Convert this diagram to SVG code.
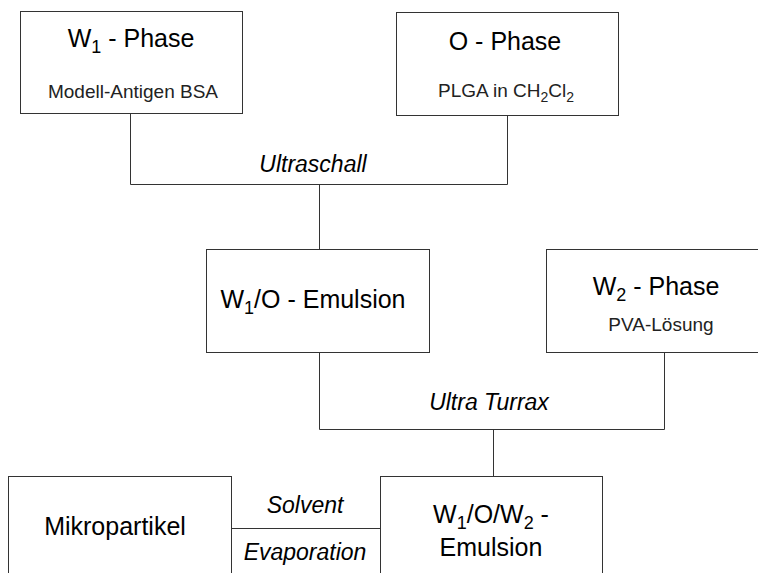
<svg xmlns="http://www.w3.org/2000/svg" width="758" height="573" viewBox="0 0 758 573">
<style>
.box{fill:#fff;stroke:#333;stroke-width:1}
.con{fill:none;stroke:#333;stroke-width:1}
text{font-family:"Liberation Sans",Arial,sans-serif;fill:#000;text-anchor:middle}
.t{font-size:25px}
.s{font-size:19px;fill:#222}
.l{font-size:23px;font-style:italic}
</style>
<rect width="758" height="573" fill="#fff"/>
<g id="connectors">
<path class="con" d="M130.5 113.5 V184.5 H507.5 V115.5"/>
<path class="con" d="M319.5 184.5 V249.5"/>
<path class="con" d="M319.5 352.5 V429.5 H664.5 V352.5"/>
<path class="con" d="M493.5 429.5 V476.5"/>
<path class="con" d="M231.5 528.5 H380.5"/>
<text class="l" x="313" y="172">Ultraschall</text>
<text class="l" x="489" y="410">Ultra Turrax</text>
<text class="l" x="305" y="513">Solvent</text>
<text class="l" x="305" y="560">Evaporation</text>
</g>
<g id="w1phase">
<rect class="box" x="20.5" y="11.5" width="222" height="102"/>
<text class="t" x="131" y="47">W<tspan font-size="18" dy="6">1</tspan><tspan dy="-6"> - Phase</tspan></text>
<text class="s" x="133" y="98">Modell-Antigen BSA</text>
</g>
<g id="ophase">
<rect class="box" x="396.5" y="12.5" width="222" height="103"/>
<text class="t" x="505" y="50">O - Phase</text>
<text class="s" x="506" y="97">PLGA in CH<tspan font-size="14" dy="5">2</tspan><tspan dy="-5">Cl</tspan><tspan font-size="14" dy="5">2</tspan></text>
</g>
<g id="w1o">
<rect class="box" x="206.5" y="249.5" width="223" height="103"/>
<text class="t" x="313" y="308">W<tspan font-size="18" dy="6">1</tspan><tspan dy="-6">/O - Emulsion</tspan></text>
</g>
<g id="w2phase">
<rect class="box" x="546.5" y="249.5" width="212" height="103"/>
<text class="t" x="656" y="295">W<tspan font-size="18" dy="6">2</tspan><tspan dy="-6"> - Phase</tspan></text>
<text class="s" x="661" y="331">PVA-Lösung</text>
</g>
<g id="w1ow2">
<rect class="box" x="380.5" y="476.5" width="222" height="120"/>
<text class="t" x="491" y="523">W<tspan font-size="18" dy="6">1</tspan><tspan dy="-6">/O/W</tspan><tspan font-size="18" dy="6">2</tspan><tspan dy="-6"> -</tspan></text>
<text class="t" x="491" y="556">Emulsion</text>
</g>
<g id="mikropartikel">
<rect class="box" x="8.5" y="476.5" width="223" height="120"/>
<text class="t" x="115" y="535">Mikropartikel</text>
</g>
</svg>
